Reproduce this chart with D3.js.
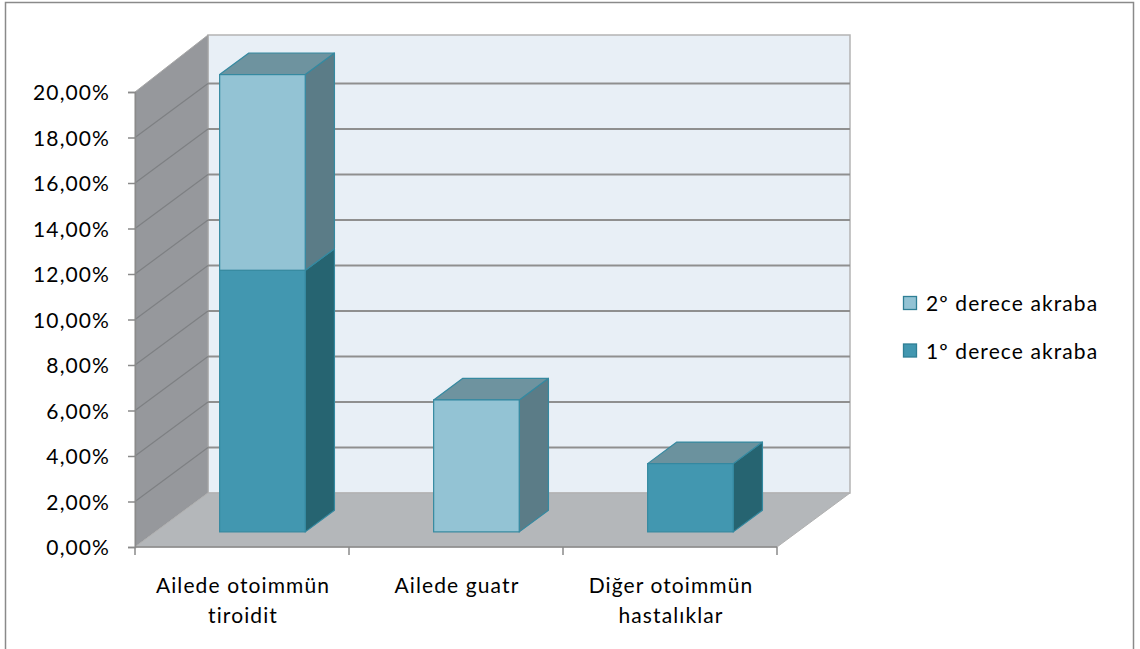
<!DOCTYPE html>
<html>
<head>
<meta charset="utf-8">
<script src="https://cdn.jsdelivr.net/npm/d3@7"></script>
<style>
  html, body { margin: 0; padding: 0; background: #fff; }
  svg text { font-family: Lato, "Open Sans", sans-serif; fill: #000; }
</style>
</head>
<body>
<svg id="chart" width="1140" height="649"></svg>
<script>
// ---- data ----
const categories = [["Ailede otoimmün", "tiroidit"], ["Ailede guatr"], ["Diğer otoimmün", "hastalıklar"]];
const seriesNames = ["1º derece akraba", "2º derece akraba"];
const firstDegree = [11.5, 0, 3.0];
const secondDegree = [8.6, 5.8, 0];
const yTicks = [0, 2, 4, 6, 8, 10, 12, 14, 16, 18, 20];

// ---- layout ----
const svg = d3.select("#chart");
const left = 135, right = 777, floorY = 547, topY = 92;
const depthX = 73, depthY = 54;           // oblique projection of full depth
const barFront = 0.28, barDepth = 0.4;     // fraction of depth
const FS = 21, LS = "1.1px";

const y = d3.scaleLinear().domain([0, 20]).range([floorY, topY]);
const x = d3.scaleBand().domain(d3.range(categories.length)).range([left, right])
  .paddingInner(0.6).paddingOuter(0.3);
const xCat = d3.scaleBand().domain(d3.range(categories.length)).range([left, right]).padding(0);

const col = {
  s2: { front: "#93C3D4", side: "#5B7C87", top: "#6E939F" },
  s1: { front: "#4297B0", side: "#266471", top: "#6B929E" },
  edge: "#3589A0"
};

// outer border
svg.append("rect").attr("x", 5.5).attr("y", 2.5).attr("width", 1128).attr("height", 680)
  .attr("fill", "#fff").attr("stroke", "#8A8A8A").attr("stroke-width", 1.5);

const pt = (a) => a.map(p => p.join(",")).join(" ");
const ymax = y.domain()[1];

// back wall
svg.append("polygon")
  .attr("points", pt([[left + depthX, y(0) - depthY], [right + depthX, y(0) - depthY], [right + depthX, y(ymax) - depthY - 3], [left + depthX, y(ymax) - depthY - 3]]))
  .attr("fill", "#E8EFF6").attr("stroke", "#B4B4B4").attr("stroke-width", 1.5);
// left wall
svg.append("polygon")
  .attr("points", pt([[left, y(0)], [left, y(ymax)], [left + depthX, y(ymax) - depthY - 3], [left + depthX, y(0) - depthY]]))
  .attr("fill", "#96989C").attr("stroke", "#A8A8A8").attr("stroke-width", 1);
// floor
svg.append("polygon")
  .attr("points", pt([[left, y(0)], [right, y(0)], [right + depthX, y(0) - depthY], [left + depthX, y(0) - depthY]]))
  .attr("fill", "#B4B7BA").attr("stroke", "#B0B0B0").attr("stroke-width", 1);

// gridlines
const grid = yTicks.filter(v => v > 0 && v < ymax);
svg.append("g").selectAll("line").data(grid).join("line")
  .attr("x1", left + depthX).attr("x2", right + depthX)
  .attr("y1", d => y(d) - depthY).attr("y2", d => y(d) - depthY)
  .attr("stroke", "#8F8F8F").attr("stroke-width", 2);
svg.append("g").selectAll("line").data(grid).join("line")
  .attr("x1", left).attr("x2", left + depthX)
  .attr("y1", d => y(d)).attr("y2", d => y(d) - depthY)
  .attr("stroke", "#7E8083").attr("stroke-width", 1.2);

// y axis
const yAxis = svg.append("g").attr("transform", `translate(${left},0)`)
  .call(d3.axisLeft(y).tickValues(yTicks).tickSize(7).tickPadding(18)
    .tickFormat(d => d.toFixed(2).replace(".", ",") + "%"));
yAxis.select(".domain").attr("stroke", "#8A8A8A").attr("stroke-width", 1.5);
yAxis.selectAll(".tick line").attr("stroke", "#8A8A8A").attr("stroke-width", 1.5);
yAxis.selectAll(".tick text").attr("font-size", FS).attr("letter-spacing", LS)
  .attr("font-family", "Lato, sans-serif").attr("fill", "#000").attr("dy", "0.36em");

// x axis
const xg = svg.append("g");
xg.append("line").attr("x1", left).attr("x2", right).attr("y1", floorY).attr("y2", floorY)
  .attr("stroke", "#8A8A8A").attr("stroke-width", 1.5);
const bounds = d3.range(categories.length).map(i => xCat(i)).concat([right]);
xg.selectAll("line.t").data(bounds).join("line")
  .attr("x1", d => d).attr("x2", d => d).attr("y1", floorY).attr("y2", floorY + 8)
  .attr("stroke", "#8A8A8A").attr("stroke-width", 1.5);
categories.forEach((lines, i) => {
  const cx = xCat(i) + xCat.bandwidth() / 2 + 1;
  const t = xg.append("text").attr("text-anchor", "middle").attr("font-size", FS)
    .attr("letter-spacing", LS).attr("y", 593);
  lines.forEach((s, j) => t.append("tspan").attr("x", cx).attr("dy", j ? 30 : 0).text(s));
});

// bars
const fdx = barFront * depthX, fdy = barFront * depthY;
const bdx = barDepth * depthX, bdy = barDepth * depthY;
const stacks = categories.map((c, i) => {
  const segs = [];
  let base = 0;
  if (firstDegree[i] > 0) { segs.push({ v0: base, v1: base + firstDegree[i], c: col.s1 }); base += firstDegree[i]; }
  if (secondDegree[i] > 0) { segs.push({ v0: base, v1: base + secondDegree[i], c: col.s2 }); base += secondDegree[i]; }
  return { i, segs };
});
const bars = svg.append("g");
stacks.forEach(st => {
  const x0 = x(st.i) + fdx, x1 = x0 + x.bandwidth();
  st.segs.forEach(s => {
    const yb = y(s.v0) - fdy, yt = y(s.v1) - fdy;
    bars.append("polygon").attr("points", pt([[x1, yb], [x1 + bdx, yb - bdy], [x1 + bdx, yt - bdy], [x1, yt]]))
      .attr("fill", s.c.side).attr("stroke", col.edge).attr("stroke-width", 1.2).attr("stroke-linejoin", "round");
    bars.append("polygon").attr("points", pt([[x0, yt], [x1, yt], [x1 + bdx, yt - bdy], [x0 + bdx, yt - bdy]]))
      .attr("fill", s.c.top).attr("stroke", col.edge).attr("stroke-width", 1.2).attr("stroke-linejoin", "round");
    bars.append("rect").attr("x", x0).attr("y", yt).attr("width", x1 - x0).attr("height", yb - yt)
      .attr("fill", s.c.front).attr("stroke", col.edge).attr("stroke-width", 1.2);
  });
});

// legend
const legendItems = [{ name: seriesNames[1], c: col.s2 }, { name: seriesNames[0], c: col.s1 }];
const lg = svg.append("g");
legendItems.forEach((d, k) => {
  const cy = 303.5 + k * 47.5;
  lg.append("rect").attr("x", 903.5).attr("y", cy - 7).attr("width", 13).attr("height", 13)
    .attr("fill", d.c.front).attr("stroke", "#2F7F95").attr("stroke-width", 1.3);
  lg.append("text").attr("x", 926).attr("y", cy).attr("dy", "0.36em").attr("font-size", FS)
    .attr("letter-spacing", LS).text(d.name);
});
</script>
</body>
</html>
